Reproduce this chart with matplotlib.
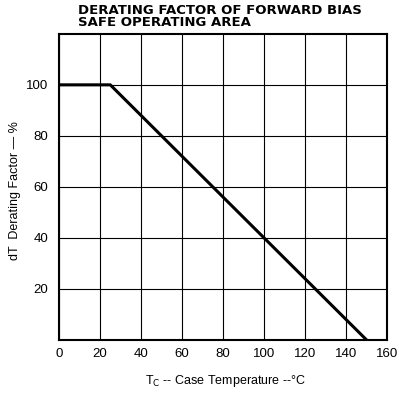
import matplotlib
matplotlib.use("Agg")
import matplotlib.pyplot as plt

temp = [0, 25, 150]
factor = [100, 100, 0]
xticks = [0, 20, 40, 60, 80, 100, 120, 140, 160]
yticks = [20, 40, 60, 80, 100]

plt.rcParams['font.family'] = ['Liberation Sans', 'DejaVu Sans']
fig = plt.figure(figsize=(3.99, 3.98), dpi=100)
ax = fig.add_axes([0.148, 0.146, 0.822, 0.769])
ax.set_xlim(0, 160)
ax.set_ylim(0, 120)
ax.set_xticks(xticks)
ax.set_yticks(yticks)
ax.grid(True, color='black', linewidth=0.8)
ax.plot(temp, factor, color='black', linewidth=2.2)
for s in ax.spines.values():
    s.set_linewidth(1.5)
ax.tick_params(length=0, labelsize=9.5, pad=8)
ax.tick_params(axis='x', pad=6)
fig.text(0.565, 0.043, r'T$_\mathrm{C}$ -- Case Temperature --°C', fontsize=9,
         ha='center', va='center')
fig.text(0.037, 0.52, 'dT  Derating Factor — %', fontsize=9, rotation=90,
         ha='center', va='center')
fig.text(0.195, 0.928, 'DERATING FACTOR OF FORWARD BIAS\nSAFE OPERATING AREA',
         fontsize=9.5, fontweight='bold', ha='left', va='bottom', linespacing=0.9,
         family=['DejaVu Sans'])
fig.savefig('out.png', dpi=100)
